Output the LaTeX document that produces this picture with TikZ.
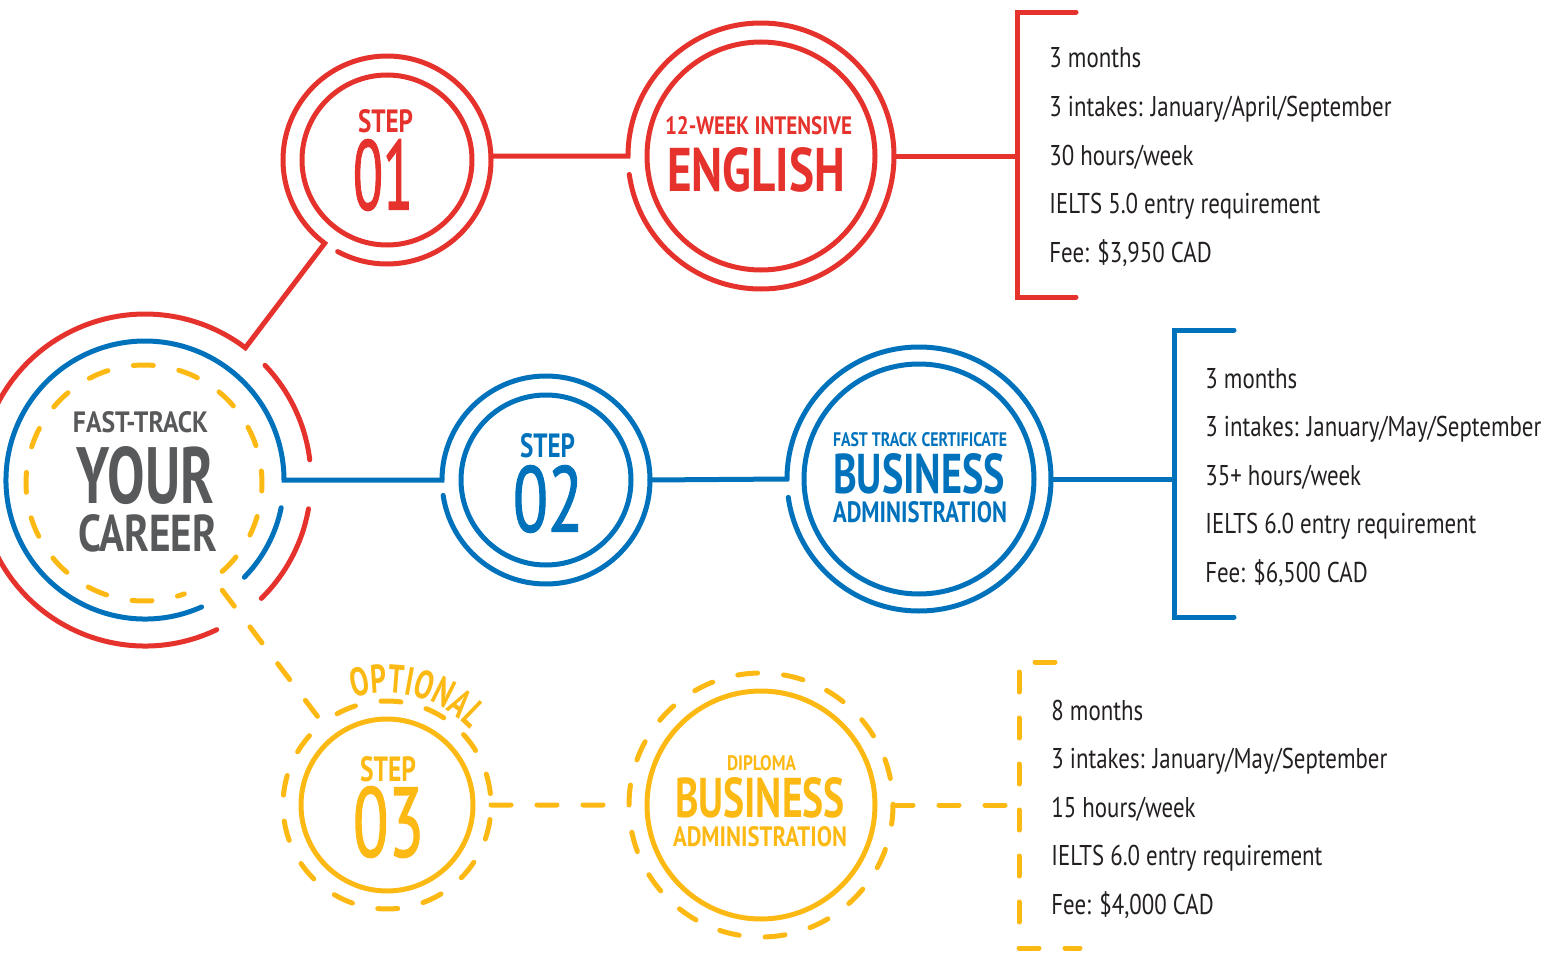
\documentclass[tikz,border=0pt]{standalone}
\usepackage{fontspec}
\usepackage{graphicx}
\usetikzlibrary{calc,decorations.text}
\setmainfont{PT Sans}
\newfontfamily\bodyfont{PT Sans}[FakeStretch=0.80]
\newfontfamily\optfont{PT Sans Bold}[FakeStretch=0.70]
\newfontfamily\digfont{PT Sans}[FakeBold=1.6]
\newlength\pxu \setlength\pxu{0.5pt}
\newcommand\fitt[3]{\resizebox{#1\pxu}{#2\pxu}{#3}}
\definecolor{cred}{HTML}{E6322D}
\definecolor{cblue}{HTML}{0072BC}
\definecolor{cyel}{HTML}{FDB913}
\definecolor{cgray}{HTML}{58595B}
\definecolor{ctext}{HTML}{231F20}
\tikzset{
  redl/.style={draw=cred, line width=2.5pt, line cap=round, line join=miter},
  bluel/.style={draw=cblue, line width=2.5pt, line cap=round, line join=miter},
  yelsolid/.style={draw=cyel, line width=2.5pt},
  yell/.style={draw=cyel, line width=2.5pt, line cap=round, dash pattern=on 10pt off 13pt},
  lbl/.style={inner sep=0pt, outer sep=0pt},
  body/.style={inner sep=0pt, anchor=base west, text=ctext, font=\bodyfont\fontsize{14.3pt}{16pt}\selectfont}
}
\begin{document}
\begin{tikzpicture}[x=0.5pt,y=-0.5pt]
\useasboundingbox (0,0) rectangle (1565,953);
\clip (0,0) rectangle (1565,953);
% centres
\coordinate (c0) at (145,480);
\coordinate (cy) at (144,483);
\coordinate (s1) at (387,160);
\coordinate (en) at (761,156);
\coordinate (s2) at (546,480);
\coordinate (bc) at (919,479);
\coordinate (s3) at (387,805);
\coordinate (dp) at (761,805);
% ---------- red track ----------
\draw[redl] (c0) ++(-295.6:166) arc[start angle=-295.6, end angle=-52.8, radius=166]
   -- ($(s1)+(-233.2:104)$) arc[start angle=-233.2, end angle=118.3, radius=104];
\draw[redl] (c0) ++(-43.7:166) arc[start angle=-43.7, end angle=-7, radius=166];
\draw[redl] (c0) ++(10:166) arc[start angle=10, end angle=45.5, radius=166];
\draw[redl] (s1) circle[radius=85];
\coordinate (s1r) at ($(s1)+(104,-4)$);
\coordinate (enl) at ($(en)+(-133,0)$);
\draw[redl] (s1r) -- (enl) arc[start angle=-180, end angle=172, radius=133];
\draw[redl] (en) circle[radius=114];
\coordinate (enr) at ($(en)+(133,0)$);
\coordinate (rbm) at (1017,156);
\draw[redl] (enr) -- (rbm);
\coordinate (rbt) at (1017,12);
\coordinate (rbb) at (1017,297);
\draw[redl] (1076,12) -- (rbt) -- (rbb) -- (1076,297);
% ---------- blue track ----------
\coordinate (s2l) at ($(s2)+(-104,0)$);
\draw[bluel] (c0) ++(-294:139) arc[start angle=-294, end angle=0, radius=139]
   -- (s2l) arc[start angle=-180, end angle=171.5, radius=104];
\draw[bluel] (c0) ++(11.5:139) arc[start angle=11.5, end angle=44.4, radius=139];
\draw[bluel] (s2) circle[radius=85];
\coordinate (s2r) at ($(s2)+(104,0)$);
\coordinate (bcl) at ($(bc)+(-132,0)$);
\draw[bluel] (s2r) -- (bcl) arc[start angle=-180, end angle=172, radius=132];
\draw[bluel] (bc) circle[radius=115];
\coordinate (bcr) at ($(bc)+(132,0)$);
\coordinate (bbm) at (1174,479);
\draw[bluel] (bcr) -- (bbm);
\coordinate (bbt) at (1174,330);
\coordinate (bbb) at (1174,617);
\draw[bluel] (1234,330) -- (bbt) -- (bbb) -- (1234,617);
% ---------- yellow track ----------
\draw[yell] (s3) ++(221.8:104) arc[start angle=221.8, end angle=-128.2, radius=104]
   -- ($(cy)+(54:118)$) arc[start angle=54, end angle=-290, radius=118];
\draw[yelsolid] (s3) circle[radius=86];
\coordinate (s3r) at ($(s3)+(104,0)$);
\coordinate (dpl) at ($(dp)+(-132,0)$);
\draw[yell] (s3r) -- (dpl) arc[start angle=-180, end angle=178, radius=132];
\draw[yelsolid] (dp) circle[radius=114];
\coordinate (dpr) at ($(dp)+(132,0)$);
\coordinate (ybm) at (1019,805);
\draw[yell] (dpr) -- (ybm);
\coordinate (ybt) at (1019,662);
\coordinate (ybb) at (1019,948);
\draw[yell] (1055,662) -- (ybt) -- (ybb) -- (1080,948);
\path[decorate, decoration={text along path, text align=center,
   text={|\optfont\fontsize{20pt}{21pt}\selectfont\color{cyel}|OPTIONAL}}]
   (s3) ++(-128:112) arc[start angle=-128, end angle=-22, radius=112];
% ---------- headings ----------
\node[lbl, text=cgray] (ft) at (140.5,422.5) {\fitt{135}{21}{\bfseries FAST-TRACK}};
\node[lbl, text=cgray] (yr) at (145.5,475.5) {\fitt{137}{57}{\bfseries YOUR}};
\node[lbl, text=cgray] (ca) at (147.5,533.5) {\fitt{139}{37}{\bfseries CAREER}};
\node[lbl, text=cred] (st1) at (385.5,121.5) {\fitt{55}{23}{\bfseries STEP}};
\node[lbl, text=cred] (n1) at (383,175) {\fitt{60}{70}{\digfont 01}};
\node[lbl, text=cred] (ew) at (758.5,126) {\fitt{187}{18}{\bfseries 12-WEEK INTENSIVE}};
\node[lbl, text=cred] (eg) at (756,170) {\fitt{178}{44}{\bfseries ENGLISH}};
\node[lbl, text=cblue] (st2) at (547.5,446) {\fitt{55}{24}{\bfseries STEP}};
\node[lbl, text=cblue] (n2) at (548,499) {\fitt{70}{66}{\digfont 02}};
\node[lbl, text=cblue] (bf) at (920,440) {\fitt{174}{14}{\bfseries FAST TRACK CERTIFICATE}};
\node[lbl, text=cblue] (bb) at (919,474) {\fitt{172}{40}{\bfseries BUSINESS}};
\node[lbl, text=cblue] (ba) at (920,512.5) {\fitt{174}{21}{\bfseries ADMINISTRATION}};
\node[lbl, text=cyel] (st3) at (388,769.5) {\fitt{56}{25}{\bfseries STEP}};
\node[lbl, text=cyel] (n3) at (388.5,822) {\fitt{71}{70}{\digfont 03}};
\node[lbl, text=cyel] (dd) at (761.5,763.5) {\fitt{69}{15}{\bfseries DIPLOMA}};
\node[lbl, text=cyel] (db) at (760,798) {\fitt{170}{40}{\bfseries BUSINESS}};
\node[lbl, text=cyel] (da) at (760,837) {\fitt{174}{20}{\bfseries ADMINISTRATION}};
% ---------- details ----------
\node[body] (r1) at (1049,68) {3 months};
\node[body] (r2) at (1049,116.5) {3 intakes: January/April/September};
\node[body] (r3) at (1049,165) {30 hours/week};
\node[body] (r4) at (1049,213.5) {IELTS 5.0 entry requirement};
\node[body] (r5) at (1049,262) {Fee: \$3,950 CAD};
\node[body] (b1) at (1205,388) {3 months};
\node[body] (b2) at (1205,436.5) {3 intakes: January/May/September};
\node[body] (b3) at (1205,485) {35+ hours/week};
\node[body] (b4) at (1205,533.5) {IELTS 6.0 entry requirement};
\node[body] (b5) at (1205,582) {Fee: \$6,500 CAD};
\node[body] (y1) at (1051,720) {8 months};
\node[body] (y2) at (1051,768.5) {3 intakes: January/May/September};
\node[body] (y3) at (1051,817) {15 hours/week};
\node[body] (y4) at (1051,865.5) {IELTS 6.0 entry requirement};
\node[body] (y5) at (1051,914) {Fee: \$4,000 CAD};
\end{tikzpicture}
\end{document}
